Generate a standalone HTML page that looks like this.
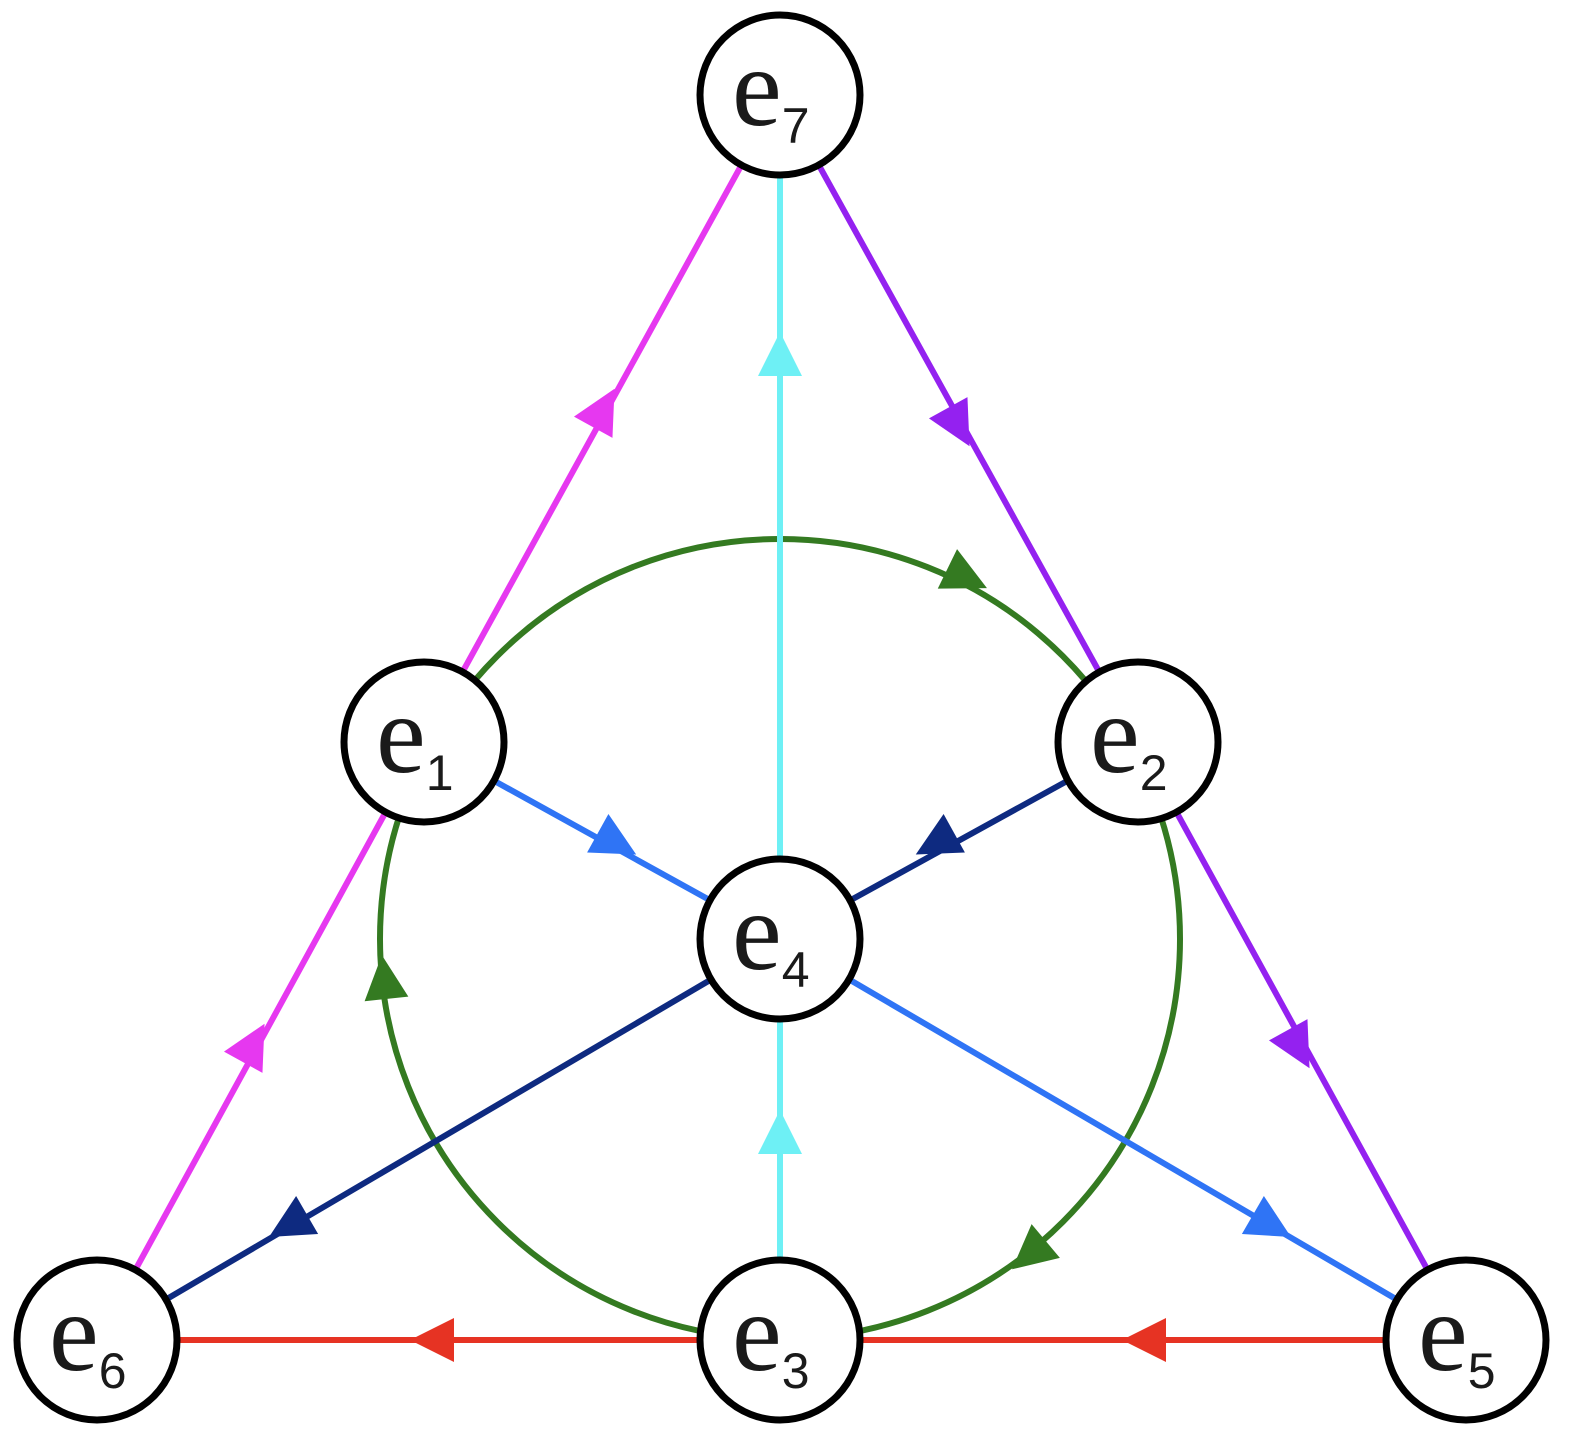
<!DOCTYPE html>
<html><head><meta charset="utf-8"><style>body{margin:0;background:#fff}svg{display:block}</style></head>
<body>
<svg width="1572" height="1445" viewBox="0 0 1572 1445" xmlns="http://www.w3.org/2000/svg">
<defs>
<polygon id="ah" points="30,0 -14,-22 -14,22"/>
</defs>
<g stroke-width="6" fill="none">
<circle cx="780" cy="939" r="400" stroke="#347a21"/>
<line x1="424" y1="742" x2="780" y2="95" stroke="#e638f0"/>
<line x1="97" y1="1340" x2="424" y2="742" stroke="#e638f0"/>
<line x1="780" y1="95" x2="1138" y2="742" stroke="#9421f0"/>
<line x1="1138" y1="742" x2="1466" y2="1340" stroke="#9421f0"/>
<line x1="780" y1="95" x2="780" y2="1340" stroke="#6ef0f5"/>
<line x1="424" y1="742" x2="780" y2="939" stroke="#2f74f5"/>
<line x1="780" y1="939" x2="1466" y2="1340" stroke="#2f74f5"/>
<line x1="1138" y1="742" x2="780" y2="939" stroke="#0e2a80"/>
<line x1="780" y1="939" x2="97" y2="1340" stroke="#0e2a80"/>
<line x1="97" y1="1340" x2="1466" y2="1340" stroke="#e63323"/>
</g>
<use href="#ah" fill="#e638f0" transform="translate(600,415) rotate(-61)"/>
<use href="#ah" fill="#e638f0" transform="translate(250,1050) rotate(-61)"/>
<use href="#ah" fill="#9421f0" transform="translate(955,420) rotate(61)"/>
<use href="#ah" fill="#9421f0" transform="translate(1295,1042) rotate(61)"/>
<use href="#ah" fill="#6ef0f5" transform="translate(780,362) rotate(-90)"/>
<use href="#ah" fill="#6ef0f5" transform="translate(780,1140) rotate(-90)"/>
<use href="#ah" fill="#2f74f5" transform="translate(610,840) rotate(29)"/>
<use href="#ah" fill="#2f74f5" transform="translate(1265,1222) rotate(30)"/>
<use href="#ah" fill="#0e2a80" transform="translate(942,840) rotate(151)"/>
<use href="#ah" fill="#0e2a80" transform="translate(295,1222) rotate(150)"/>
<use href="#ah" fill="#e63323" transform="translate(440,1340) rotate(180)"/>
<use href="#ah" fill="#e63323" transform="translate(1152,1340) rotate(180)"/>
<use href="#ah" fill="#347a21" transform="translate(960,575) rotate(26)"/>
<use href="#ah" fill="#347a21" transform="translate(385,985) rotate(-96)"/>
<use href="#ah" fill="#347a21" transform="translate(1035,1250) rotate(140)"/>
<g stroke="#000" stroke-width="7" fill="#fff">
<circle cx="780" cy="95" r="80"/>
<circle cx="424" cy="742" r="80"/>
<circle cx="1138" cy="742" r="80"/>
<circle cx="780" cy="939" r="80"/>
<circle cx="97" cy="1340" r="80"/>
<circle cx="780" cy="1340" r="80"/>
<circle cx="1466" cy="1340" r="80"/>
</g>
<g fill="#1a1a1a" font-family="Liberation Serif, serif" font-size="112">
<text x="732" y="125">e<tspan font-family="Liberation Sans, sans-serif" font-size="50" dy="18">7</tspan></text>
<text x="376" y="772">e<tspan font-family="Liberation Sans, sans-serif" font-size="50" dy="18">1</tspan></text>
<text x="1090" y="772">e<tspan font-family="Liberation Sans, sans-serif" font-size="50" dy="18">2</tspan></text>
<text x="732" y="969">e<tspan font-family="Liberation Sans, sans-serif" font-size="50" dy="18">4</tspan></text>
<text x="49" y="1370">e<tspan font-family="Liberation Sans, sans-serif" font-size="50" dy="18">6</tspan></text>
<text x="732" y="1370">e<tspan font-family="Liberation Sans, sans-serif" font-size="50" dy="18">3</tspan></text>
<text x="1418" y="1370">e<tspan font-family="Liberation Sans, sans-serif" font-size="50" dy="18">5</tspan></text>
</g>
</svg>
</body></html>
